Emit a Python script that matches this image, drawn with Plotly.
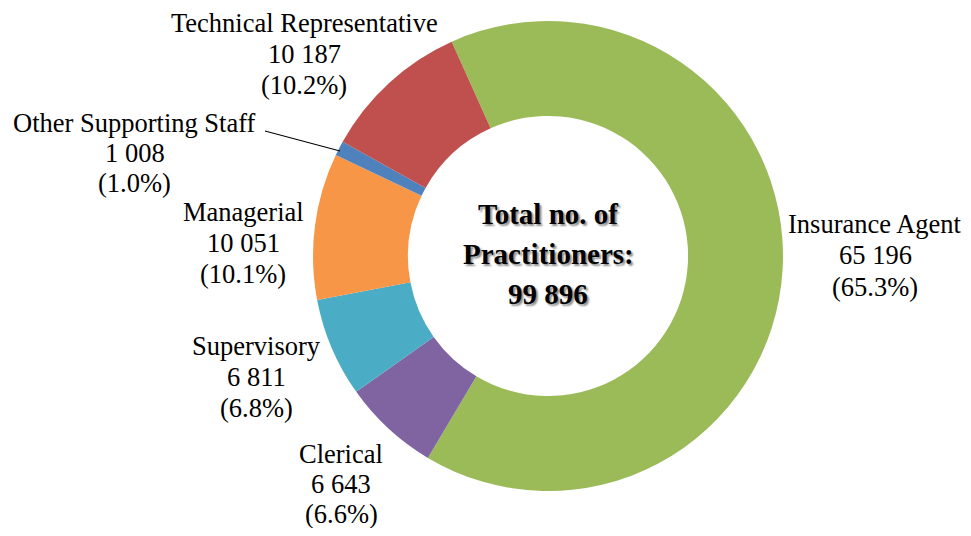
import plotly.graph_objects as go

categories = ["Insurance Agent", "Clerical", "Supervisory", "Managerial",
              "Other Supporting Staff", "Technical Representative"]
values = [65196, 6643, 6811, 10051, 1008, 10187]
colors = ["#9BBB59", "#8064A2", "#4BACC6", "#F79646", "#4F81BD", "#C0504D"]
center_title = ["Total no. of", "Practitioners:"]

OFF = 8  # page body margin offset
W, H = 971 - 2 * OFF, 536 - 2 * OFF
total = sum(values)

def fmt(v):
    return f"{v:,}".replace(",", " ")

def xp(px):
    return (px - OFF) / W

def yp(py):
    return 1 - (py - OFF) / H

# label block centres and line spacing (screen pixels from top-left)
label_pos = {
    "Insurance Agent": (875, 255, 31.5),
    "Clerical": (341, 484, 30),
    "Supervisory": (257, 377, 31),
    "Managerial": (243, 243, 30.5),
    "Other Supporting Staff": (135, 153, 30),
    "Technical Representative": (304, 54, 31),
}

cx, cy, r = 548, 256, 235

fig = go.Figure(go.Pie(
    labels=categories,
    values=values,
    marker=dict(colors=colors, line=dict(width=0)),
    hole=0.596,
    sort=False,
    direction="clockwise",
    rotation=-24.2,
    textinfo="none",
    showlegend=False,
    domain=dict(x=[xp(cx - r), xp(cx + r)],
                y=[yp(cy + r), yp(cy - r)]),
))

serif = "Liberation Serif"
annotations = []
for cat, v in zip(categories, values):
    px, py, sp = label_pos[cat]
    lines = [cat, fmt(v), f"({v / total * 100:.1f}%)"]
    for i, t in enumerate(lines):
        annotations.append(dict(
            x=xp(px), y=yp(py + (i - 1) * sp), xref="paper", yref="paper",
            xanchor="center", yanchor="middle", showarrow=False,
            text=t, borderpad=0,
            font=dict(family=serif, size=26.5, color="#000000"),
        ))

for i, t in enumerate(center_title + [fmt(total)]):
    annotations.append(dict(
        x=xp(cx), y=yp(214 + i * 40), xref="paper", yref="paper",
        xanchor="center", yanchor="middle", showarrow=False,
        text=f"<b>{t}</b>", borderpad=0,
        font=dict(family=serif, size=29, color="#000000",
                  shadow="2px 2px 2px rgba(0,0,0,0.45)"),
    ))

fig.update_layout(
    width=W, height=H,
    margin=dict(l=0, r=0, t=0, b=0),
    paper_bgcolor="white", plot_bgcolor="white",
    annotations=annotations,
    shapes=[dict(type="line", xref="paper", yref="paper",
                 x0=xp(265), y0=yp(131), x1=xp(340), y1=yp(151),
                 line=dict(color="black", width=1.2))],
)

fig.write_html("out.html")
